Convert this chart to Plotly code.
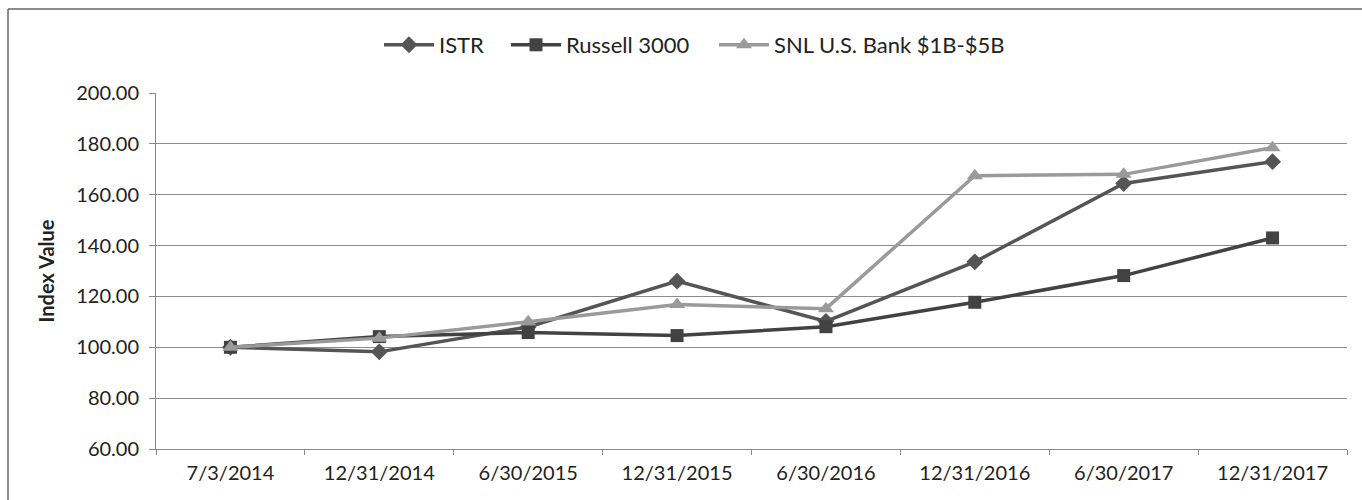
import plotly.graph_objects as go

dates = ["7/3/2014", "12/31/2014", "6/30/2015", "12/31/2015",
         "6/30/2016", "12/31/2016", "6/30/2017", "12/31/2017"]
istr = [100.00, 98.2, 108.0, 126.0, 110.2, 133.6, 164.4, 173.0]
russell = [100.00, 104.2, 105.8, 104.6, 108.1, 117.7, 128.2, 143.0]
snl = [100.00, 103.6, 110.0, 116.8, 115.2, 167.5, 168.0, 178.5]

FONT = "Lato, 'Open Sans', sans-serif"

fig = go.Figure()
fig.add_trace(go.Scatter(x=dates, y=istr, name="ISTR", mode="lines+markers",
                         legend="legend",
                         line=dict(color="#555555", width=3.5),
                         marker=dict(symbol="diamond", size=13, color="#555555")))
fig.add_trace(go.Scatter(x=dates, y=russell, name="Russell 3000", mode="lines+markers",
                         legend="legend2",
                         line=dict(color="#424242", width=3.5),
                         marker=dict(symbol="square", size=13, color="#424242")))
fig.add_trace(go.Scatter(x=dates, y=snl, name="SNL U.S. Bank $1B-$5B", mode="lines+markers",
                         legend="legend3",
                         line=dict(color="#9a9a9a", width=3.5),
                         marker=dict(symbol="triangle-up", size=14, color="#9a9a9a")))

L, R, T, B = 156, 15, 93, 51
W, H = 1362, 500
pw = W - L - R
ph = H - T - B

def px_x(p):
    return (p - L) / pw

def px_y(p):
    return 1 - (p - T) / ph

def leg(xpix):
    return dict(orientation="h", xanchor="left", yanchor="middle",
                x=px_x(xpix), y=px_y(45), font=dict(size=22, color="#222222"),
                bgcolor="rgba(0,0,0,0)", itemwidth=50)

fig.update_layout(
    width=W, height=H,
    margin=dict(l=L, r=R, t=T, b=B),
    paper_bgcolor="white", plot_bgcolor="white",
    font=dict(family=FONT, size=20, color="#222222"),
    showlegend=True,
    legend=leg(379),
    legend2=leg(506),
    legend3=leg(714),
    xaxis=dict(type="category", range=[-0.5, 7.5], tickson="boundaries",
               ticks="outside", ticklen=5, tickcolor="#888888",
               showline=True, linecolor="#888888", linewidth=1,
               showgrid=False, tickfont=dict(size=20, color="#222222"),
               ticklabelstandoff=6),
    yaxis=dict(range=[60, 200], dtick=20, tickformat=".2f",
               ticks="outside", ticklen=6, tickcolor="#888888",
               showline=True, linecolor="#888888", linewidth=1,
               showgrid=True, gridcolor="#8c8c8c", gridwidth=1,
               zeroline=False, tickfont=dict(size=20, color="#222222"),
               ticklabelstandoff=6,
               title=dict(text="<b>Index Value</b>", font=dict(size=20, color="#222222"),
                          standoff=16)),
    shapes=[
        dict(type="line", xref="paper", yref="paper",
             x0=px_x(8), x1=px_x(8), y0=px_y(9), y1=px_y(510),
             line=dict(color="#666666", width=1.5)),
        dict(type="line", xref="paper", yref="paper",
             x0=px_x(8), x1=px_x(1370), y0=px_y(9), y1=px_y(9),
             line=dict(color="#666666", width=1.5)),
    ],
)

fig.write_html("out.html")
